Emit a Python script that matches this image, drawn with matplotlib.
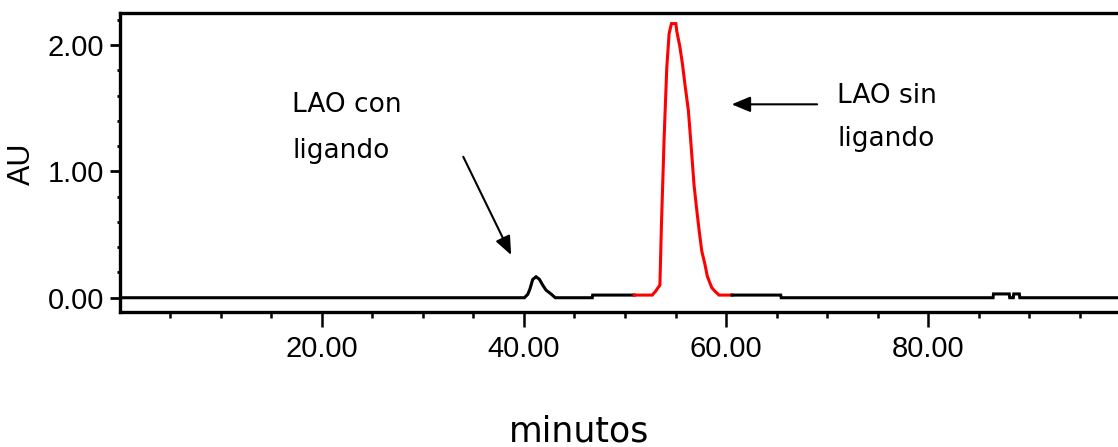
import matplotlib
matplotlib.use("Agg")
import matplotlib.pyplot as plt
from matplotlib.ticker import FixedLocator, FixedFormatter

# ---- data (minutes, AU) ----
black_pre_t = [0, 40.05, 40.38, 40.6, 40.87, 41.2, 41.53, 41.86, 42.19, 42.68, 43.1, 46.76, 46.8, 50.9]
black_pre_v = [0, 0, 0.027, 0.07, 0.145, 0.166, 0.146, 0.10, 0.06, 0.03, 0, 0, 0.021, 0.021]

red_t = [50.9, 52.7, 52.99, 53.45, 53.6, 53.87, 54.13, 54.36, 54.59, 55.03, 55.12, 55.42, 55.68,
         55.91, 56.27, 56.53, 56.83, 57.06, 57.32, 57.59, 57.89, 58.14, 58.38, 58.58,
         58.91, 59.3, 60.6]
red_v = [0.021, 0.021, 0.048, 0.10, 0.57, 1.27, 1.82, 2.09, 2.17, 2.17, 2.11, 1.99, 1.85,
         1.70, 1.48, 1.21, 0.89, 0.72, 0.54, 0.37, 0.27, 0.17, 0.12, 0.08,
         0.05, 0.021, 0.021]

black_post_t = [60.6, 65.4, 65.45, 86.4, 86.45, 88.0, 88.05, 88.4, 88.45, 89.0, 89.05, 98.8]
black_post_v = [0.021, 0.021, 0, 0, 0.03, 0.03, 0, 0, 0.03, 0.03, 0, 0]

x_major = [20, 40, 60, 80]
x_major_labels = ["20.00", "40.00", "60.00", "80.00"]
x_minor = [5, 10, 15, 25, 30, 35, 45, 50, 55, 65, 70, 75, 85, 90, 95]
y_major = [0, 1, 2]
y_major_labels = ["0.00", "1.00", "2.00"]
y_minor = [0.2, 0.4, 0.6, 0.8, 1.2, 1.4, 1.6, 1.8, 2.2]

ann_con = ["LAO con", "ligando"]
ann_sin = ["LAO sin", "ligando"]
xlabel = "minutos"
ylabel = "AU"

W, H = 1118, 447
fig = plt.figure(figsize=(W / 100, H / 100), dpi=100)
left_px, right_px, top_px, bot_px = 119.5, 1118, 13, 311.5
ax = fig.add_axes([left_px / W, 1 - bot_px / H, (right_px - left_px) / W, (bot_px - top_px) / H])

lw = 2.2
ax.plot(black_pre_t, black_pre_v, color="black", lw=lw, solid_joinstyle="miter")
ax.plot(red_t, red_v, color="#ff0000", lw=lw, solid_joinstyle="miter")
ax.plot(black_post_t, black_post_v, color="black", lw=lw, solid_joinstyle="miter")

ax.set_xlim(0, 98.76)
ax.set_ylim(-0.109, 2.254)

for s in ["left", "bottom", "top"]:
    ax.spines[s].set_linewidth(2.4)
ax.spines["right"].set_visible(False)

ax.xaxis.set_major_locator(FixedLocator(x_major))
ax.xaxis.set_major_formatter(FixedFormatter(x_major_labels))
ax.xaxis.set_minor_locator(FixedLocator(x_minor))
ax.yaxis.set_major_locator(FixedLocator(y_major))
ax.yaxis.set_major_formatter(FixedFormatter(y_major_labels))
ax.yaxis.set_minor_locator(FixedLocator(y_minor))

ax.tick_params(axis="x", which="major", length=10.8, width=1.8, direction="out", pad=5.8)
ax.tick_params(axis="x", which="minor", length=4.3, width=1.8, direction="out")
ax.tick_params(axis="y", which="major", length=7.2, width=2.0, direction="out", pad=4)
ax.tick_params(axis="y", which="minor", length=2.5, width=2.0, direction="out")
for lab in ax.get_xticklabels() + ax.get_yticklabels():
    lab.set_fontfamily("Liberation Sans")
    lab.set_fontsize(21)

ann_font = dict(family="DejaVu Sans", size=19)
ax.text(17.08, 1.473, ann_con[0], ha="left", va="baseline", **ann_font)
ax.text(17.08, 1.104, ann_con[1], ha="left", va="baseline", **ann_font)
ax.text(70.98, 1.54, ann_sin[0], ha="left", va="baseline", **ann_font)
ax.text(70.98, 1.20, ann_sin[1], ha="left", va="baseline", **ann_font)

arrow_style = dict(arrowstyle="-|>,head_length=1.13,head_width=0.47", color="black",
                   lw=1.5, mutation_scale=10, shrinkA=0, shrinkB=0)
ax.annotate("", xy=(38.74, 0.338), xytext=(34.0, 1.116), arrowprops=arrow_style)
ax.annotate("", xy=(60.55, 1.531), xytext=(69.0, 1.531), arrowprops=arrow_style)

fig.text(22 / W, 1 - 164 / H, ylabel, rotation=90, ha="center", va="center",
         family="Liberation Sans", size=22)
fig.text(579 / W, 5 / H, xlabel, ha="center", va="baseline", family="DejaVu Sans", size=25)

fig.savefig("out.png", dpi=100, facecolor="white")
